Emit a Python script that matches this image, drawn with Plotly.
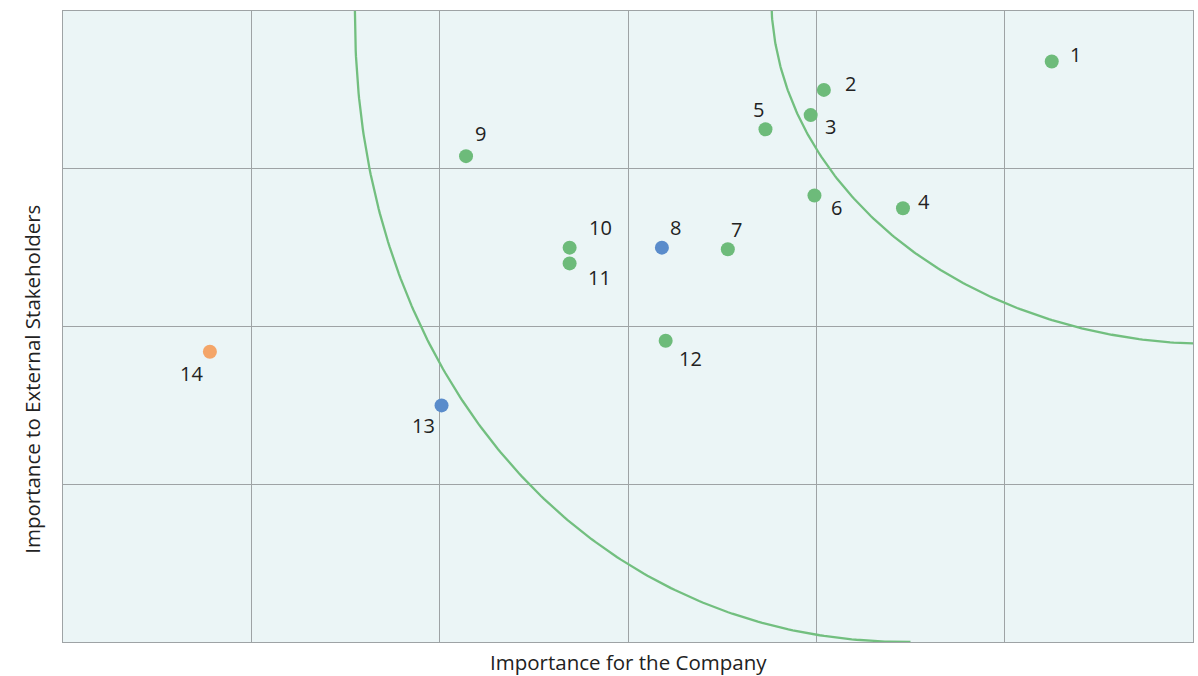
import numpy as np
import plotly.graph_objects as go

# ---- data ----
labels = ["1", "2", "3", "4", "5", "6", "7", "8", "9", "10", "11", "12", "13", "14"]
company = [5.25, 4.04, 3.97, 4.46, 3.73, 3.99, 3.53, 3.18, 2.14, 2.69, 2.69, 3.20, 2.01, 0.78]
stakeholders = [3.68, 3.50, 3.34, 2.75, 3.25, 2.83, 2.49, 2.50, 3.08, 2.50, 2.40, 1.91, 1.50, 1.84]
groups = ["g", "g", "g", "g", "g", "g", "g", "b", "g", "g", "g", "g", "b", "o"]

x_tick_vals = [0, 1, 2, 3, 4, 5, 6]
y_tick_vals = [0, 1, 2, 3, 4]
x_title = "Importance for the Company"
y_title = "Importance to External Stakeholders"

# ---- style ----
colors = {"g": "#6dbb7a", "b": "#5a8ccb", "o": "#f4a568"}
label_shift = {  # (xshift, yshift) in px
    "1": (24, 7), "2": (27, 6), "3": (20, -11), "4": (21, 7), "5": (-7, 20),
    "6": (22, -12), "7": (9, 20), "8": (14, 20), "9": (14, 23), "10": (31, 20),
    "11": (30, -14), "12": (25, -18), "13": (-18, -20), "14": (-18, -22),
}
FONT = "'Open Sans', Lato, sans-serif"


def superellipse(cx, cy, a, b, n, t0=0.0, t1=np.pi / 2, m=200):
    t = np.linspace(t0, t1, m)
    x = cx - a * np.abs(np.cos(t)) ** (2.0 / n)
    y = cy - b * np.abs(np.sin(t)) ** (2.0 / n)
    return x, y


fig = go.Figure()

# arcs
ix, iy = superellipse(4.5, 4.0, 2.95, 4.0, 2.1)
fig.add_trace(go.Scatter(x=ix, y=iy, mode="lines", line=dict(color="#72bf7f", width=2.3),
                         hoverinfo="skip", showlegend=False))
ox, oy = superellipse(6.1, 4.1, 2.34, 2.21, 2.0)
fig.add_trace(go.Scatter(x=ox, y=oy, mode="lines", line=dict(color="#72bf7f", width=2.3),
                         hoverinfo="skip", showlegend=False))

# points
fig.add_trace(go.Scatter(
    x=company, y=stakeholders, mode="markers",
    marker=dict(size=14, color=[colors[g] for g in groups], line=dict(width=0)),
    showlegend=False, cliponaxis=False,
))

for lab, xv, yv in zip(labels, company, stakeholders):
    dx, dy = label_shift[lab]
    fig.add_annotation(x=xv, y=yv, text=lab, showarrow=False, xshift=dx, yshift=dy,
                       font=dict(family=FONT, size=20, color="#222222"))

# axis titles
fig.add_annotation(xref="paper", yref="paper", x=0.5, y=-0.031, text=x_title,
                   showarrow=False, xanchor="center", yanchor="middle", borderpad=0,
                   font=dict(family=FONT, size=20.5, color="#222222"))
fig.add_annotation(xref="paper", yref="paper", x=-0.0275, y=0.417, text=y_title,
                   showarrow=False, xanchor="center", yanchor="middle", textangle=-90,
                   borderpad=0, font=dict(family=FONT, size=20.5, color="#222222"))

axis_common = dict(showticklabels=False, ticks="", showgrid=True, gridcolor="#9ea3a5",
                   gridwidth=1.3, zeroline=False, showline=True, linecolor="#9ea3a5",
                   linewidth=1.3, mirror=True)

fig.update_layout(
    width=1198, height=676,
    margin=dict(l=63, r=5, t=11, b=34),
    paper_bgcolor="white", plot_bgcolor="#ebf5f6",
    font=dict(family=FONT, size=18, color="#222222"),
    xaxis=dict(range=[0, 6], tickvals=x_tick_vals, **axis_common),
    yaxis=dict(range=[0, 4], tickvals=y_tick_vals, **axis_common),
)

fig.write_html("out.html")
